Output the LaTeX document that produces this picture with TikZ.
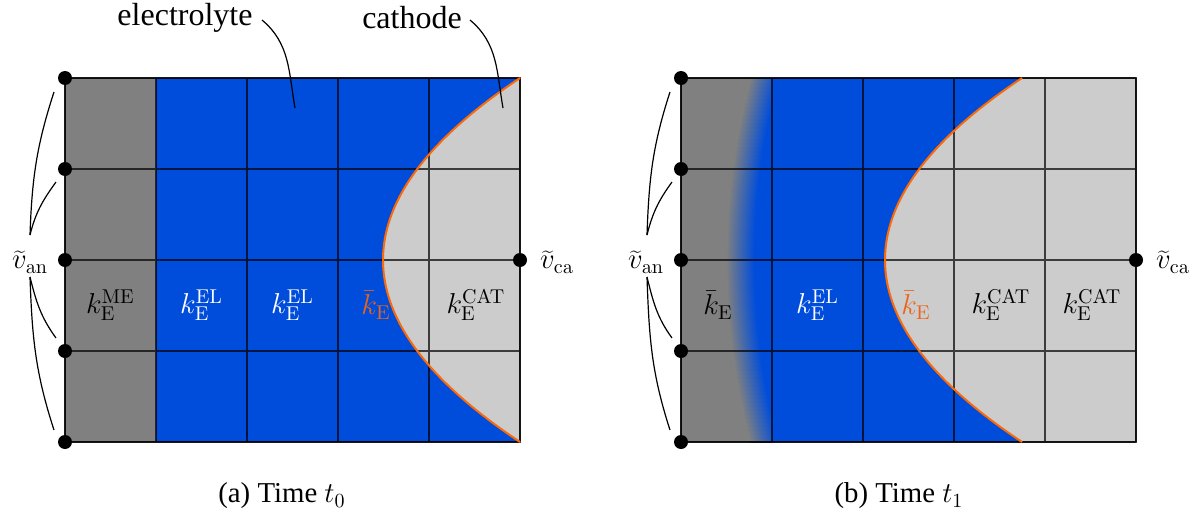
\documentclass[tikz,border=0pt]{standalone}
\usepackage[no-math]{fontspec}
\setmainfont{Liberation Serif}
\definecolor{meGray}{RGB}{128,128,128}
\definecolor{elBlue}{RGB}{0,77,219}
\definecolor{catGray}{RGB}{204,204,204}
\definecolor{bndOrange}{RGB}{250,105,10}
\definecolor{txtOrange}{RGB}{235,100,25}
\begin{document}
\begin{tikzpicture}[x=0.5pt,y=0.5pt,
  lbl/.style={font=\fontsize{14.4}{17}\selectfont, inner sep=0pt},
  biglbl/.style={font=\fontsize{16}{19}\selectfont, inner sep=0pt},
  dotnode/.style={circle,fill=black,minimum size=7pt,inner sep=0pt},
  gridline/.style={draw=black,draw opacity=0.7,line width=0.75pt},
  bracket/.style={line width=0.6pt},
  boundary/.style={draw=bndOrange,line width=1pt}]
\useasboundingbox (0,0) rectangle (1201,516);

% ---------- left panel ----------
\fill[meGray] (65,74) rectangle (156,438);
\fill[elBlue] (156,74) rectangle (520,438);
\fill[catGray] plot[domain=-182:182,samples=61,smooth] ({383+137*(\x/182)^2},{256+\x}) -- cycle;
\draw[gridline,shift={(65,74)}] (0,0) grid[step=91] (455,364);
\draw[gridline] (65,74) rectangle (520,438);
\draw[boundary] plot[domain=-182:182,samples=61,smooth] ({383+137*(\x/182)^2},{256+\x});

% ---------- right panel ----------
\fill[elBlue] (681,74) rectangle (1136,438);
\fill[catGray] plot[domain=-182:182,samples=61,smooth] ({885+137*(\x/182)^2},{256+\x}) -- (1136,438) -- (1136,74) -- cycle;
\begin{scope}
  \clip (681,74) rectangle (772,438);
  \foreach \yy in {74,78,...,434} {
    \pgfmathsetmacro{\cc}{740+24*((\yy+2-256)/182)^2}
    \fill[meGray] (681,{\yy}) rectangle ({\cc-14},{\yy+4.6});
    \shade[left color=meGray,right color=elBlue] ({\cc-14},{\yy}) rectangle ({\cc+14},{\yy+4.6});
  }
\end{scope}
\draw[gridline,shift={(681,74)}] (0,0) grid[step=91] (455,364);
\draw[gridline] (681,74) rectangle (1136,438);
\draw[boundary] plot[domain=-182:182,samples=61,smooth] ({885+137*(\x/182)^2},{256+\x});

% ---------- dots ----------
\node[dotnode] (a1) at (65,438) {};
\node[dotnode] (a2) at (65,347) {};
\node[dotnode] (a3) at (65,256) {};
\node[dotnode] (a4) at (65,165) {};
\node[dotnode] (a5) at (65,74) {};
\node[dotnode] (ca) at (520,256) {};
\node[dotnode] (b1) at (681,438) {};
\node[dotnode] (b2) at (681,347) {};
\node[dotnode] (b3) at (681,256) {};
\node[dotnode] (b4) at (681,165) {};
\node[dotnode] (b5) at (681,74) {};
\node[dotnode] (cb) at (1136,256) {};

% ---------- terminal labels ----------
\node[lbl] (van) at (30,254) {$\widetilde{v}_{\mathrm{an}}$};
\node[lbl] (vca) at (557,254) {$\widetilde{v}_{\mathrm{ca}}$};
\node[lbl] (vbn) at (646,254) {$\widetilde{v}_{\mathrm{an}}$};
\node[lbl] (vcb) at (1173,254) {$\widetilde{v}_{\mathrm{ca}}$};

\coordinate (vanU) at (30,281);
\coordinate (vanD) at (30,239);
\coordinate (ea1) at (54,424);
\coordinate (ea2) at (56,334);
\coordinate (ea4) at (56,178);
\coordinate (ea5) at (54,86);
\draw[bracket] (vanU) to[out=88,in=252] (ea1);
\draw[bracket] (vanU) to[out=76,in=234] (ea2);
\draw[bracket] (vanD) to[out=-76,in=126] (ea4);
\draw[bracket] (vanD) to[out=-88,in=108] (ea5);

\coordinate (vbnU) at (647,281);
\coordinate (vbnD) at (647,239);
\coordinate (eb1) at (670,424);
\coordinate (eb2) at (672,334);
\coordinate (eb4) at (672,178);
\coordinate (eb5) at (670,86);
\draw[bracket] (vbnU) to[out=88,in=252] (eb1);
\draw[bracket] (vbnU) to[out=76,in=234] (eb2);
\draw[bracket] (vbnD) to[out=-76,in=126] (eb4);
\draw[bracket] (vbnD) to[out=-88,in=108] (eb5);

% ---------- region labels ----------
\node[biglbl] (elec) at (185,498) {electrolyte};
\node[biglbl] (cath) at (412,498) {cathode};
\coordinate (elecS) at (262,496);
\coordinate (elecE) at (295,408);
\coordinate (cathS) at (470,496);
\coordinate (cathE) at (503,408);
\draw[bracket] (elecS) to[out=-40,in=100] (elecE);
\draw[bracket] (cathS) to[out=-40,in=100] (cathE);

% ---------- cell labels ----------
\node[lbl] (l1) at (110.5,211) {$k_{\mathrm{E}}^{\mathrm{ME}}$};
\node[lbl,text=white] (l2) at (201.5,211) {$k_{\mathrm{E}}^{\mathrm{EL}}$};
\node[lbl,text=white] (l3) at (292.5,211) {$k_{\mathrm{E}}^{\mathrm{EL}}$};
\node[lbl,text=txtOrange] (l4) at (376,211) {$\bar{k}_{\mathrm{E}}$};
\node[lbl] (l5) at (476,211) {$k_{\mathrm{E}}^{\mathrm{CAT}}$};

\node[lbl] (r1) at (718,211) {$\bar{k}_{\mathrm{E}}$};
\node[lbl,text=white] (r2) at (817.5,211) {$k_{\mathrm{E}}^{\mathrm{EL}}$};
\node[lbl,text=txtOrange] (r3) at (916,211) {$\bar{k}_{\mathrm{E}}$};
\node[lbl] (r4) at (1001,211) {$k_{\mathrm{E}}^{\mathrm{CAT}}$};
\node[lbl] (r5) at (1092,211) {$k_{\mathrm{E}}^{\mathrm{CAT}}$};

% ---------- captions ----------
\node[lbl] (capa) at (282,20) {(a) Time $t_0$};
\node[lbl] (capb) at (899,20) {(b) Time $t_1$};
\end{tikzpicture}
\end{document}
